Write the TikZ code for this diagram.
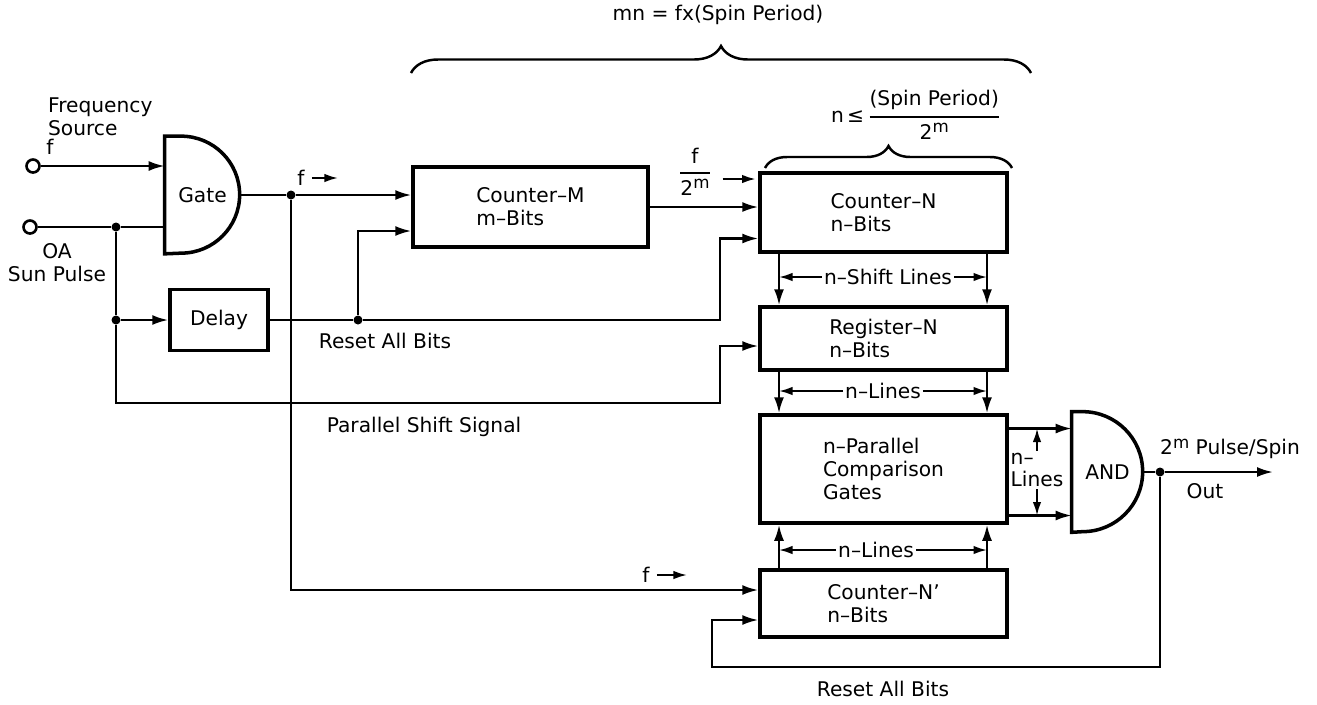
\documentclass[tikz,border=0pt]{standalone}
\usepackage{amsmath}
\usepackage{fontspec}
\setmainfont{DejaVu Sans}
\usetikzlibrary{arrows.meta,calc,decorations.pathreplacing}
\newcommand{\ratiotext}[2]{$\genfrac{}{}{1.1pt}{0}{\text{#1}}{\text{#2}}$}
\newcommand{\raisedm}[1]{\raisebox{0.6ex}{\fontsize{9.5}{10}\selectfont #1}}
\tikzset{
  blk/.style={draw,line width=2pt,align=left,inner sep=0pt},
  wire/.style={line width=1.3pt},
  tick/.style={line width=1.1pt,-{Latex[length=2.7mm,width=1.7mm]}},
  jdot/.style={circle,fill,inner sep=0pt,minimum size=0.18cm},
  term/.style={circle,draw,line width=1.5pt,inner sep=0pt,minimum size=0.26cm},
  gatebody/.style={line width=2pt},
  lbl/.style={inner sep=1pt},
  curly/.style={line width=1.4pt,decorate,decoration={brace,amplitude=#1}}
}

\begin{document}
\begin{tikzpicture}[x=0.02cm,y=-0.02cm,font=\fontsize{11.5}{13}\selectfont,>={Latex[length=3.2mm,width=2mm]}]
  \useasboundingbox (0,0) rectangle (1317,704);
  % inputs and gate
  \node[term] (fin) at (33,166) {};
  \node[term] (oa) at (30,227) {};
  \node[lbl,align=left,anchor=west] (fsrc) at (46,117) {Frequency\\Source};
  \node[lbl] (flbl) at (50,147) {f};
  \node[lbl,align=center] (oalbl) at (57,263) {OA\\Sun Pulse};
  \node[minimum width=1.5cm,minimum height=2.34cm,inner sep=0pt] (gate) at (202.5,195) {Gate};
  \draw[gatebody] (gate.south west) -- (gate.north west) -- ++(16.5,0)
    arc[start angle=90,end angle=-90,radius=1.17cm] -- cycle;
  \node[blk,align=center,minimum width=1.96cm,minimum height=1.22cm] (delay) at (219,320) {Delay};
  % counters and registers
  \node[blk,minimum width=4.7cm,minimum height=1.6cm] (cM) at (530.5,207) {Counter--M\\m--Bits};
  \node[blk,minimum width=4.94cm,minimum height=1.58cm] (cN) at (883.5,212.5) {Counter--N\\n--Bits};
  \node[blk,minimum width=4.94cm,minimum height=1.26cm] (rN) at (883.5,338.5) {Register--N\\n--Bits};
  \node[blk,minimum width=4.94cm,minimum height=2.16cm] (cmp) at (883.5,469) {n--Parallel\\Comparison\\Gates};
  \node[blk,minimum width=4.94cm,minimum height=1.34cm] (cN2) at (883.5,603.5) {Counter--N'\\n--Bits};
  \node[minimum width=1.42cm,minimum height=2.4cm,inner sep=0pt] (andg) at (1107.5,472) {AND};
  \draw[gatebody] (andg.south west) -- (andg.north west) -- ++(11,0)
    arc[start angle=90,end angle=-90,radius=1.2cm] -- cycle;
  % junctions and bends
  \node[jdot] (j1) at (116,227) {};
  \node[jdot] (j2) at (116,320) {};
  \node[jdot] (j3) at (358,320) {};
  \node[jdot] (j4) at (291,195) {};
  \node[jdot] (j5) at (1160,472) {};
  \coordinate (bendA) at (720,320);
  \coordinate (bendB) at (720,403);
  \coordinate (loopc) at (712,667);
  \coordinate (outp) at (1273,472);
  \coordinate (lx) at (779,0);
  \coordinate (rx) at (987,0);
  \coordinate (a1) at ([yshift=0.87cm]andg.west);
  \coordinate (a2) at ([yshift=-0.87cm]andg.west);
  % wires
  \draw[wire,->] (fin) -- (fin -| gate.west);
  \draw[wire] (oa) -- (j1) -- (j1 -| gate.west);
  \draw[wire] (j1) -- (j2);
  \draw[wire,->] (j2) -- (delay);
  \draw[wire,->] (j2) |- (bendB) |- ([yshift=-0.15cm]rN.west);
  \draw[wire] (gate.east) -- (j4);
  \draw[wire,->] (j4) -- (j4 -| cM.west);
  \draw[wire,->] (j4) |- ([yshift=0.27cm]cN2.west);
  \draw[wire] (delay) -- (j3);
  \draw[wire,->] (j3) -- (bendA) |- ([yshift=-0.52cm]cN.west);
  \draw[wire,->] (j3) |- ([yshift=-0.48cm]cM.west);
  \draw[wire,->] (cM) -- (cM -| cN.west);
  \draw[wire,->] (cN.south -| lx) -- (rN.north -| lx);
  \draw[wire,->] (cN.south -| rx) -- (rN.north -| rx);
  \draw[wire,->] (rN.south -| lx) -- (cmp.north -| lx);
  \draw[wire,->] (rN.south -| rx) -- (cmp.north -| rx);
  \draw[wire,->] (cN2.north -| lx) -- (cmp.south -| lx);
  \draw[wire,->] (cN2.north -| rx) -- (cmp.south -| rx);
  \draw[wire,->] (a1 -| cmp.east) -- (a1);
  \draw[wire,->] (a2 -| cmp.east) -- (a2);
  \draw[wire] (andg.east) -- (j5);
  \draw[wire,->] (j5) -- (outp);
  \draw[wire,->] (j5) |- (loopc) |- ([yshift=-0.33cm]cN2.west);
  % line labels
  \node[lbl] (f1) at (301,178) {f};
  \draw[tick] ([xshift=3pt]f1.east) -- ++(26,0);
  \node[lbl] (fm) at (695,172) {\ratiotext{f}{2\raisedm{m}}};
  \draw[tick] ([xshift=5pt,yshift=-0.14cm]fm.east) -- ++(33,0);
  \node[lbl] (f2) at (646,575) {f};
  \draw[tick] ([xshift=3pt]f2.east) -- ++(30,0);
  \node[lbl] (rab1) at (385,341) {Reset All Bits};
  \node[lbl] (pss) at (424,427) {Parallel Shift Signal};
  \node[lbl] (rab2) at (883,689) {Reset All Bits};
  \node[lbl] (shl) at (888,277) {n--Shift Lines};
  \draw[tick] (shl.west) -- (shl.west -| lx);
  \draw[tick] (shl.east) -- (shl.east -| rx);
  \node[lbl] (nl1) at (883,391) {n--Lines};
  \draw[tick] (nl1.west) -- (nl1.west -| lx);
  \draw[tick] (nl1.east) -- (nl1.east -| rx);
  \node[lbl] (nl2) at (876,550) {n--Lines};
  \draw[tick] (nl2.west) -- (nl2.west -| lx);
  \draw[tick] (nl2.east) -- (nl2.east -| rx);
  \node[lbl,align=left] (nl3) at (1037,470) {n--\\Lines};
  \draw[tick] (nl3.north) -- (nl3.north |- a1);
  \draw[tick] (nl3.south) -- (nl3.south |- a2);
  \node[lbl] (pps) at (1230,449) {2\raisedm{m} Pulse/Spin};
  \node[lbl] (outl) at (1205,491) {Out};
  % braces
  \draw[curly=0.54cm] (411,73) -- (1031,73);
  \node[lbl] (mnl) at (718,15) {mn = fx(Spin Period)};
  \draw[curly=0.44cm] (765,168) -- (1012,168);
  \node[lbl] (nle) at (916,115) {n\,≤\,\ratiotext{(Spin Period)}{2\raisedm{m}}};
\end{tikzpicture}
\end{document}
